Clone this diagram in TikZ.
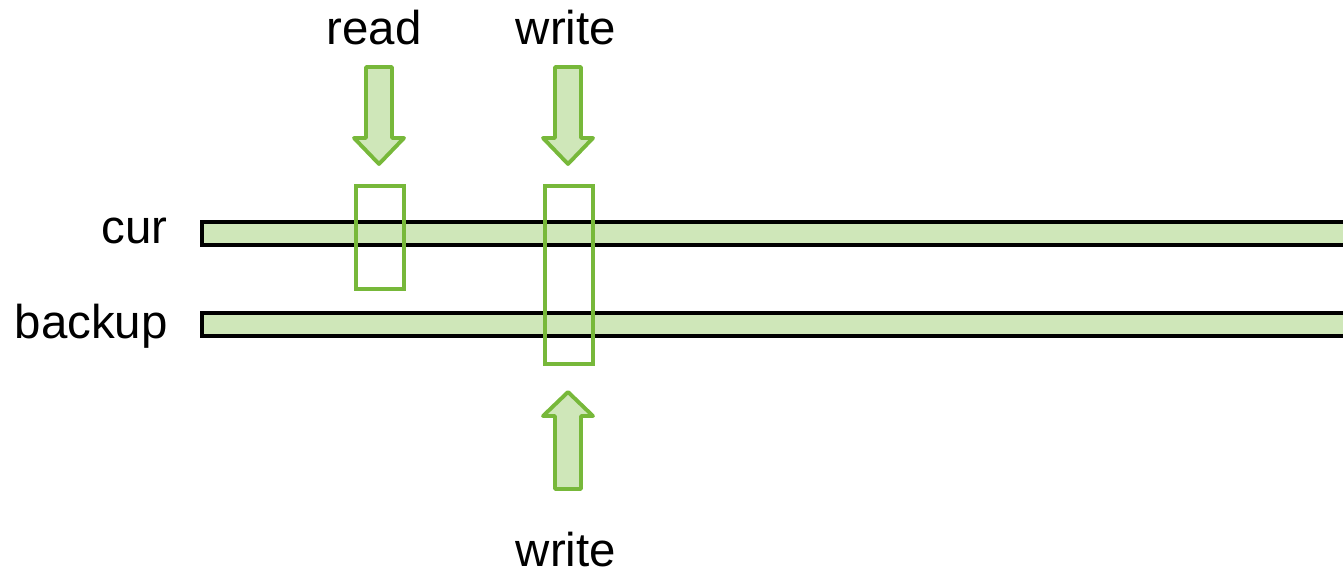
\documentclass[tikz,border=0pt]{standalone}
\usepackage{fontspec}
\setmainfont{Liberation Sans}
\usetikzlibrary{positioning}
\definecolor{bufFill}{HTML}{CFE7B9}
\definecolor{bufGreen}{HTML}{77B83A}

% fat block arrow: centre x, tail y, head base y, tip y (pixel units)
\newcommand{\blockarrow}[4]{%
  \draw[bigarrow] (#1-13,#2) -- (#1+13,#2) -- (#1+13,#3) -- (#1+25,#3)
    -- (#1,#4) -- (#1-25,#3) -- (#1-13,#3) -- cycle;}

\begin{document}
\begin{tikzpicture}[
  x=0.02cm,y=-0.02cm,
  font=\fontsize{27}{32}\selectfont,
  label/.style={inner sep=0pt, anchor=base},
  buffer/.style={draw=black, fill=bufFill, line width=2pt},
  window/.style={draw=bufGreen, line width=2.2pt},
  bigarrow/.style={draw=bufGreen, fill=bufFill, line width=2.2pt,
                   line join=round},
]
  \path[use as bounding box] (0,0) rectangle (1343,569);
  \clip (0,0) rectangle (1343,569);

  % the two buffers run off the right edge
  \draw[buffer] (202,222) rectangle (1370,245);
  \draw[buffer] (202,313) rectangle (1370,336);
  \node[label, anchor=base east] (cur) at (168,243) {cur};
  \node[label, anchor=base east] (backup) at (168,338) {backup};

  % access windows
  \draw[window] (356,186) rectangle (404,289);
  \draw[window] (545,186) rectangle (593,364);

  % arrows and their labels
  \blockarrow{379}{67}{138}{164}
  \blockarrow{568}{67}{138}{164}
  \blockarrow{568}{489}{416}{392}
  \node[label] (read) at (374,44) {read};
  \node[label] (writetop) at (566,44) {write};
  \node[label] (writebot) at (566,566) {write};
\end{tikzpicture}
\end{document}
